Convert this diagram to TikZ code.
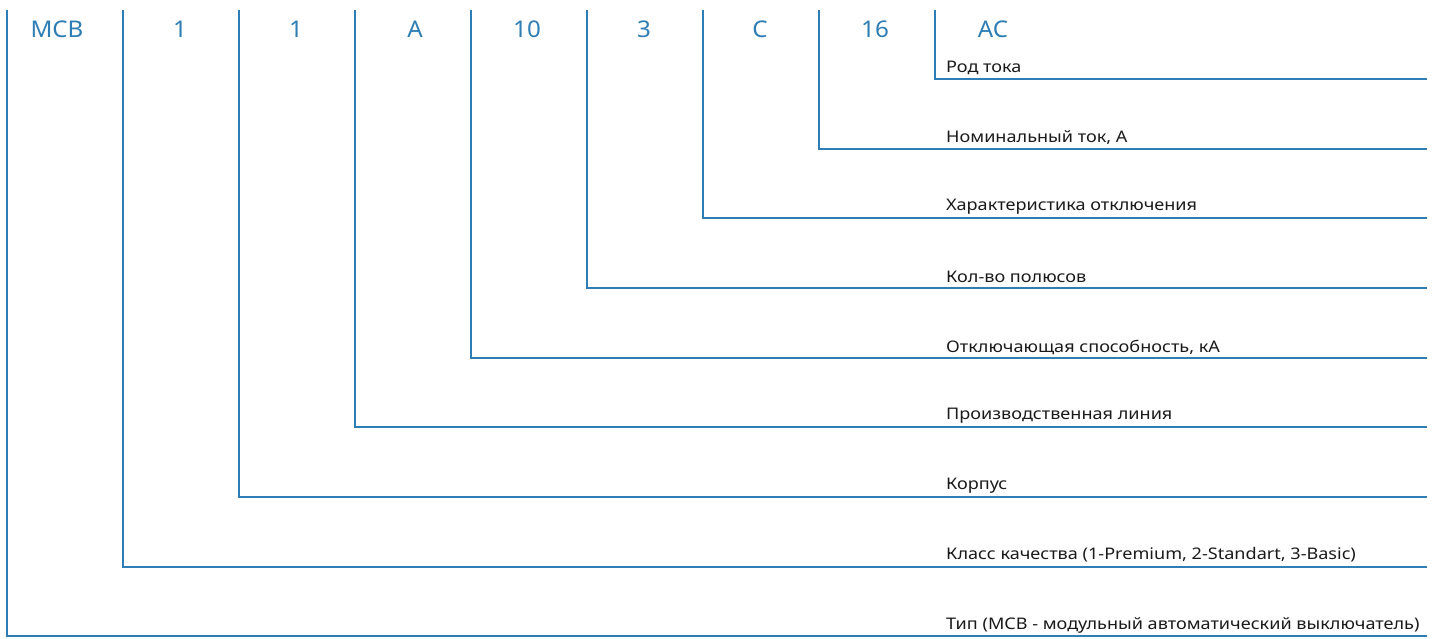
\documentclass[tikz,border=0pt]{standalone}
\usepackage{fontspec}
\setmainfont{Noto Sans}
\definecolor{codeblue}{RGB}{46,125,180}
\definecolor{labeltext}{RGB}{26,26,26}
\tikzset{
  codetext/.style={text=codeblue, font=\fontsize{23}{26}\selectfont\addfontfeature{FakeStretch=1.05}, inner sep=0pt},
  desctext/.style={text=labeltext, font=\fontsize{16}{19}\selectfont\addfontfeature{FakeStretch=1.13}, anchor=west, inner sep=0pt},
  leader/.style={draw=codeblue, line width=1.3pt}
}
\begin{document}
\begin{tikzpicture}[x=1pt, y=-1pt]
\useasboundingbox (0,0) rectangle (1435,639);

\node (mcb) [codetext] at (57,29) {MCB};
\node (quality) [codetext] at (180,29) {1};
\node (body) [codetext] at (296,29) {1};
\node (line) [codetext] at (415,29) {A};
\node (breaking) [codetext] at (527,29) {10};
\node (poles) [codetext] at (644,29) {3};
\node (curve) [codetext] at (760,29) {C};
\node (rated) [codetext] at (875,29) {16};
\node (current) [codetext] at (993,29) {AC};

\node (dcurrent) [desctext] at (946,68) {Род тока};
\node (drated) [desctext] at (946,138) {Номинальный ток, А};
\node (dcurve) [desctext] at (946,207) {Характеристика отключения};
\node (dpoles) [desctext] at (946,277) {Кол-во полюсов};
\node (dbreaking) [desctext] at (946,347) {Отключающая способность, кА};
\node (dline) [desctext] at (946,416) {Производственная линия};
\node (dbody) [desctext] at (946,486) {Корпус};
\node (dquality) [desctext] at (946,555) {Класс качества (1-Premium, 2-Standart, 3-Basic)};
\node (dmcb) [desctext] at (946,625) {Тип (MCB - модульный автоматический выключатель)};

% leader tops and right ends
\coordinate (tmcb) at (7,10);
\coordinate (tquality) at (123,10);
\coordinate (tbody) at (239,10);
\coordinate (tline) at (355,10);
\coordinate (tbreaking) at (471,10);
\coordinate (tpoles) at (587,10);
\coordinate (tcurve) at (703,10);
\coordinate (trated) at (819,10);
\coordinate (tcurrent) at (935,10);

\coordinate (ecurrent) at (1427,79);
\coordinate (erated) at (1427,149);
\coordinate (ecurve) at (1427,218);
\coordinate (epoles) at (1427,288);
\coordinate (ebreaking) at (1427,358);
\coordinate (eline) at (1427,427);
\coordinate (ebody) at (1427,497);
\coordinate (equality) at (1427,567);
\coordinate (emcb) at (1427,636);

\draw [leader] (tmcb) |- (emcb);
\draw [leader] (tquality) |- (equality);
\draw [leader] (tbody) |- (ebody);
\draw [leader] (tline) |- (eline);
\draw [leader] (tbreaking) |- (ebreaking);
\draw [leader] (tpoles) |- (epoles);
\draw [leader] (tcurve) |- (ecurve);
\draw [leader] (trated) |- (erated);
\draw [leader] (tcurrent) |- (ecurrent);
\end{tikzpicture}
\end{document}
